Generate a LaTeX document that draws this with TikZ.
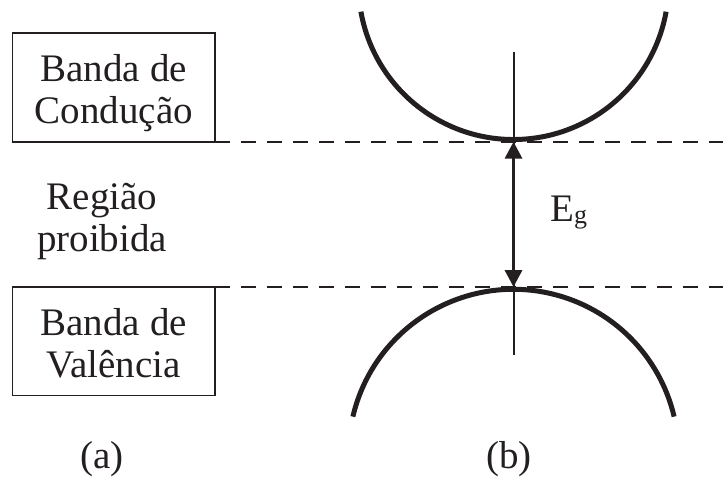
\documentclass[tikz,border=0pt]{standalone}
\usepackage{fontspec}
\setmainfont{Liberation Serif}
\usepackage{tikz}
\usetikzlibrary{arrows.meta,positioning}
\definecolor{tinta}{HTML}{231F20}
% duas linhas de texto dentro da caixa, com apoios invisiveis
\newcommand{\bandalin}[2]{\rule{0pt}{40pt}#1\\#2\rule[-10pt]{0pt}{10pt}}
\tikzset{
  >={Triangle[length=17pt,width=17pt]},
  % bandas
  caixa/.style={draw=tinta,line width=1.8pt,inner sep=0pt,outer sep=0pt,
                minimum width=202.5pt,minimum height=108.5pt,align=center,
                text=tinta,font=\fontsize{39}{42}\selectfont},
  rot/.style={text=tinta,inner sep=0pt,font=\fontsize{39}{42}\selectfont},
  nivel/.style={draw=tinta,line width=1.8pt,dash pattern=on 15pt off 11pt},
  % dispersao
  curva/.style={draw=tinta,line width=5pt},
  eixo/.style={draw=tinta,line width=2pt},
  salto/.style={<->,draw=tinta,line width=3.4pt},
}
\begin{document}
\begin{tikzpicture}[x=1pt,y=-1pt]
  \useasboundingbox (0,0) rectangle (723,483);
  % (a)
  \node[caixa] (cond) at (113.75,87.45) {\bandalin{Banda de}{Condução}};
  \node[caixa] (val) at (113.75,341.25) {\bandalin{Banda de}{Valência}};
  \node[rot,align=center] (proib) at (102,222) {Região\\proibida};
  \node[rot,anchor=base] (lbla) at (102,468) {(a)};
  % (b)
  \coordinate (cmin) at (513.5,141.7);
  \coordinate (vmax) at (513.5,287);
  \coordinate (cfim) at (723,141.7);
  \coordinate (vfim) at (723,287);
  \coordinate (etop) at (513.5,52);
  \coordinate (ebot) at (513.5,355);
  \coordinate (cc) at (513.5,-15.5);
  \coordinate (vc) at (513.5,454.3);
  \draw[nivel] (cond.south east) -- (cfim);
  \draw[nivel] (val.north east) -- (vfim);
  \draw[curva] (cc) ++(169.9:155) arc[start angle=169.9,end angle=10.1,radius=155];
  \draw[curva] (vc) ++(193.2:165) arc[start angle=193.2,end angle=346.8,radius=165];
  \draw[eixo] (etop) -- (ebot);
  \draw[salto] (cmin) -- (vmax);
  \node[rot,anchor=base west] (eg) at (550,221.7) {E\raisebox{-2pt}{\fontsize{26}{26}\selectfont g}};
  \node[rot,anchor=base] (lblb) at (509,468) {(b)};
\end{tikzpicture}
\end{document}
